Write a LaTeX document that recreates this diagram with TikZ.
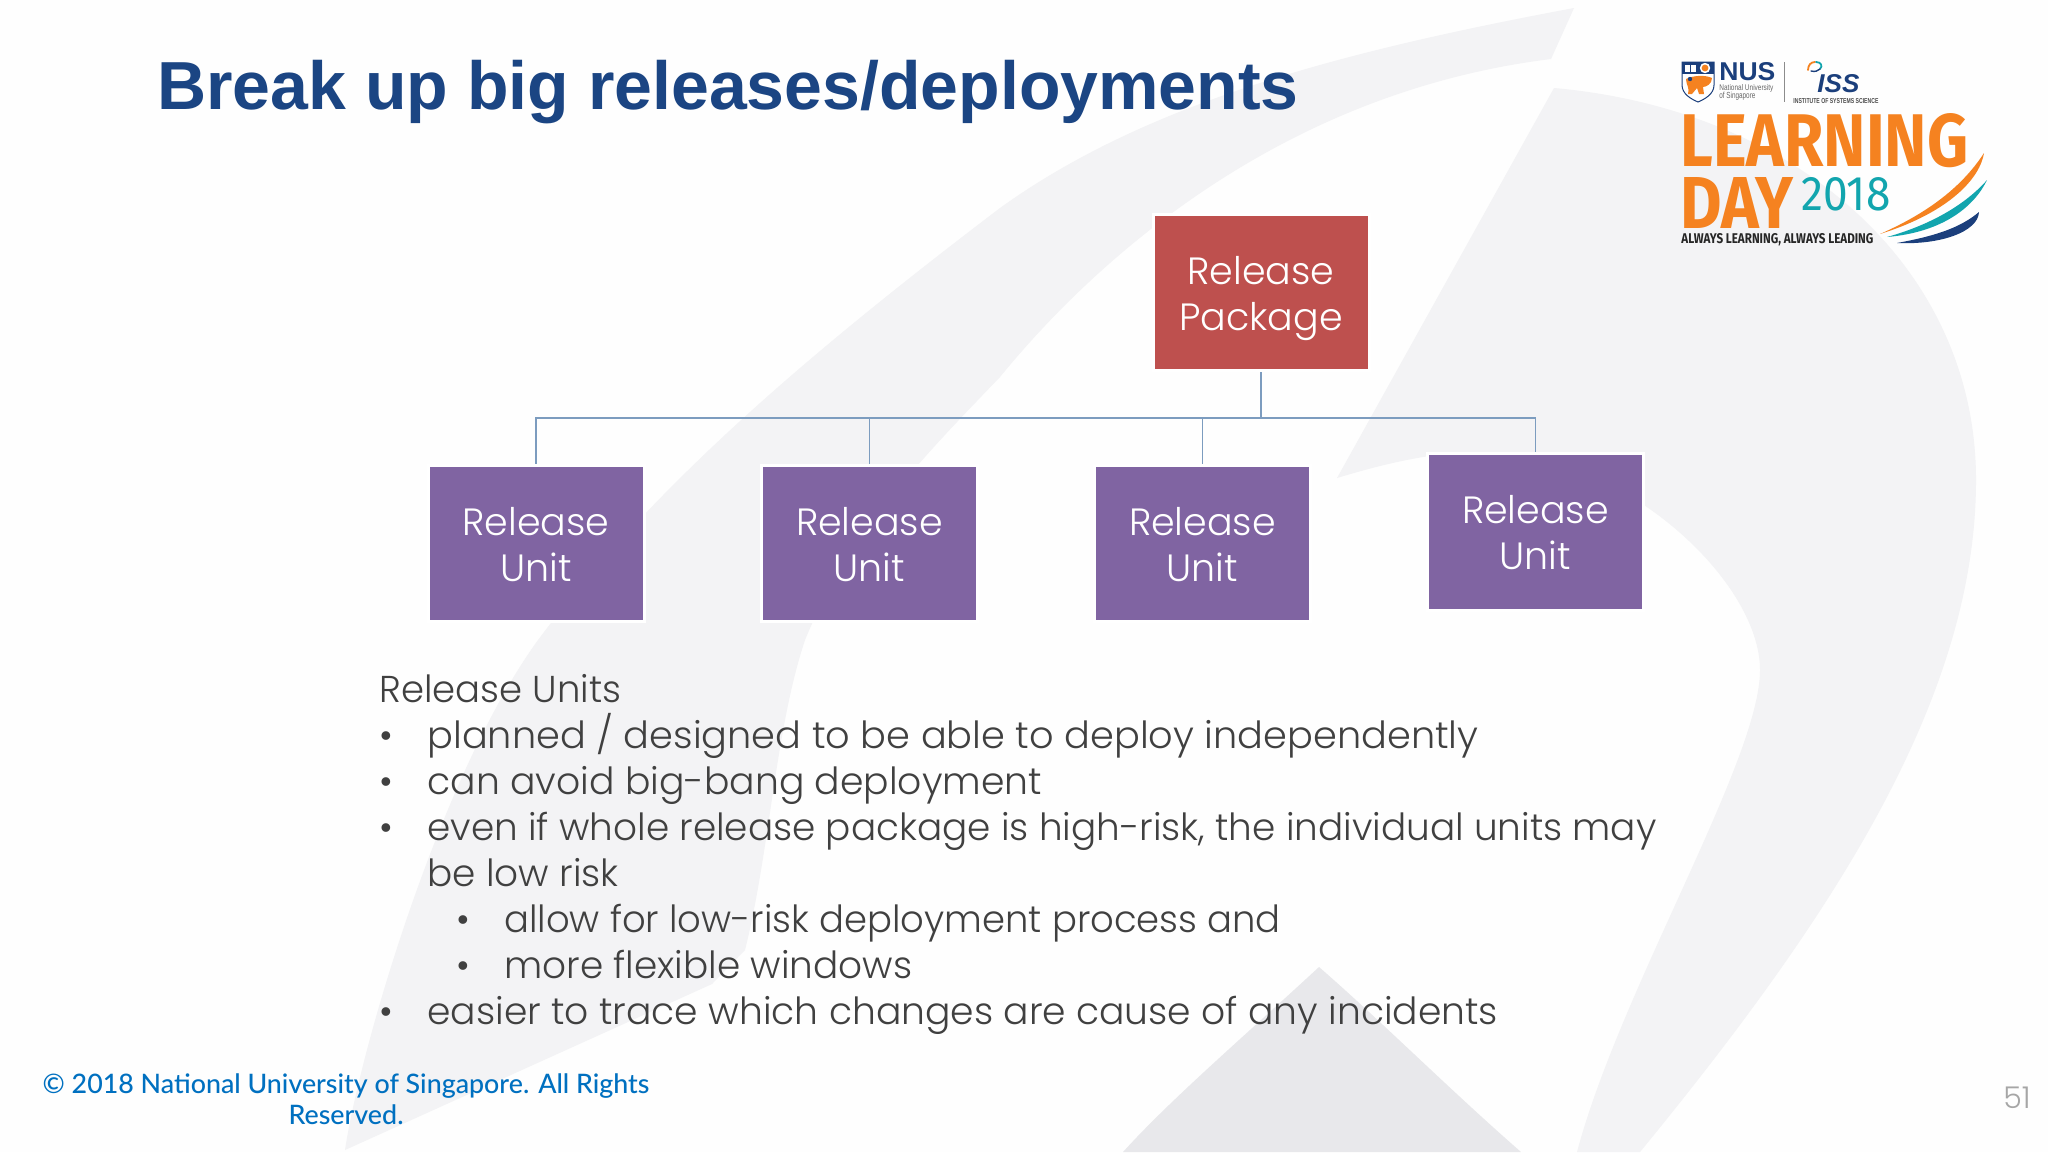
\documentclass[tikz,border=0pt]{standalone}
\usepackage{graphicx}
\usepackage{fontspec}
\setmainfont{Liberation Sans}
\newfontfamily\bodyf{Poppins Light}
\newfontfamily\footf{Lato Medium}
\newfontfamily\fira{Fira Sans}
\definecolor{bgc}{HTML}{FEFEFE}
\definecolor{wmc}{HTML}{F3F3F5}
\definecolor{wmd}{HTML}{E8E8EB}
\definecolor{titlec}{HTML}{1B4583}
\definecolor{redb}{HTML}{BE504E}
\definecolor{purb}{HTML}{8064A2}
\definecolor{linec}{HTML}{7C9CBF}
\definecolor{bodyc}{HTML}{404040}
\definecolor{footc}{HTML}{0070C0}
\definecolor{orangeL}{HTML}{F58220}
\definecolor{tealL}{HTML}{12A5AE}
\definecolor{navyL}{HTML}{1B3F7C}
\tikzset{
  wm/.style={fill=wmc,draw=none},
  boxbase/.style={draw=white,line width=1.5pt,minimum width=108pt,minimum height=78.25pt,text=white,align=center,inner sep=0pt,font=\bodyf\fontsize{19}{23}\selectfont},
  pkgbox/.style={boxbase,fill=redb},
  unitbox/.style={boxbase,fill=purb},
  conn/.style={draw=linec,line width=0.65pt},
  bodyline/.style={anchor=base west,inner sep=0pt,text=bodyc,font=\bodyf\fontsize{18.7}{23}\selectfont},
  footline/.style={anchor=base,inner sep=0pt,text=footc,font=\footf\fontsize{13.4}{16}\selectfont},
  logotext/.style={anchor=base west,inner sep=0pt},
}
\newcommand{\fitbox}[3]{\resizebox{#1pt}{#2pt}{#3}}
\begin{document}
\begin{tikzpicture}[x=0.5pt,y=-0.5pt]
\useasboundingbox (0,0) rectangle (2048,1152);
\fill[bgc] (0,0) rectangle (2048,1152);
% watermark
\fill[wm] (1574,8) .. controls (1350,50) and (1150,100) .. (1000,208)
  .. controls (800,360) and (650,490) .. (538,640)
  .. controls (440,775) and (360,1050) .. (345,1150)
  -- (712,984) -- (745,950)
  .. controls (770,850) and (775,730) .. (805,640)
  .. controls (850,530) and (930,450) .. (1000,377)
  .. controls (1075,285) and (1260,95) .. (1551,59) -- cycle;
\fill[wm] (1554,88) .. controls (1800,110) and (1976,270) .. (1976,480)
  .. controls (1976,700) and (1830,920) .. (1640,1152)
  -- (1577,1152) .. controls (1620,990) and (1760,760) .. (1760,670)
  .. controls (1760,580) and (1620,450) .. (1481,452)
  .. controls (1430,452) and (1380,465) .. (1337,478) -- cycle;
\fill[wmd] (1319,967) .. controls (1240,1040) and (1170,1100) .. (1123,1152) -- (1521,1152) .. controls (1450,1090) and (1380,1020) .. cycle;
% title
\node[anchor=base west,inner sep=0pt,text=titlec,font=\bfseries\fontsize{34}{40}\selectfont] (title) at (157,109) {Break up big releases/deployments};
% tree
\node[pkgbox] (pkg) at (1261,292.5) {\rule{0pt}{20pt}Release\\Package};
\node[unitbox] (u1) at (536,543.5) {\rule{0pt}{14.7pt}Release\\Unit};
\node[unitbox] (u2) at (869.5,543.5) {\rule{0pt}{14.7pt}Release\\Unit};
\node[unitbox] (u3) at (1202.5,543.5) {\rule{0pt}{14.7pt}Release\\Unit};
\node[unitbox] (u4) at (1535.5,532) {\rule{0pt}{14.7pt}Release\\Unit};
\coordinate (bus) at (1261,418);
\draw[conn] (pkg.south) -- (bus);
\draw[conn] (bus) -| (u1.north);
\draw[conn] (bus) -| (u2.north);
\draw[conn] (bus) -| (u3.north);
\draw[conn] (bus) -| (u4.north);
% body
\node[bodyline,xscale=.99] (t0) at (379,702) {Release Units};
\node[bodyline] (b1) at (379,748) {•};
\node[bodyline,xscale=1.024] (t1) at (427,748) {planned / designed to be able to deploy independently};
\node[bodyline] (b2) at (379,794) {•};
\node[bodyline,xscale=1.009] (t2) at (427,794) {can avoid big-bang deployment};
\node[bodyline] (b3) at (379,840) {•};
\node[bodyline] (t3) at (427,840) {even if whole release package is high-risk, the individual units may};
\node[bodyline] (t3b) at (427,886) {be low risk};
\node[bodyline] (b4) at (456,932) {•};
\node[bodyline,xscale=.988] (t4) at (504,932) {allow for low-risk deployment process and};
\node[bodyline] (b5) at (456,978) {•};
\node[bodyline] (t5) at (504,978) {more flexible windows};
\node[bodyline] (b6) at (379,1024) {•};
\node[bodyline,xscale=1.007] (t6) at (427,1024) {easier to trace which changes are cause of any incidents};
% footer
\node[footline] (f1) at (346,1093) {© 2018 National University of Singapore. All Rights};
\node[footline] (f2) at (346,1124) {Reserved.};
\node[anchor=base east,inner sep=0pt,text=black!35,font=\bodyf\fontsize{15}{16}\selectfont] (pg) at (2031,1108) {51};
% logo: shield
\draw[navyL,line width=0.5pt,fill=white] (1682,62) -- (1714,62) -- (1714,85) .. controls (1714,94) and (1705,99) .. (1698,102) .. controls (1691,99) and (1682,94) .. (1682,85) -- cycle;
\fill[navyL] (1682,62) rectangle (1714,74);
\fill[white] (1685,64.5) rectangle (1696,72);
\fill[navyL] (1690,64.5) rectangle (1691,72);
\fill[white] (1705,68) circle (2.6pt);
\fill[orangeL] (1705,68) circle (1.7pt);
\fill[orangeL] (1686,79) .. controls (1694,75) and (1706,75) .. (1712,78) .. controls (1712,84) and (1706,87) .. (1703,87) -- (1704,94) -- (1699,94) -- (1697,88) -- (1692,94) -- (1688,94) .. controls (1690,88) and (1686,85) .. (1686,79) -- cycle;
\fill[navyL] (1690,79) circle (1.1pt);
\node[logotext,text=navyL] (nus) at (1719,80) {\fitbox{28}{9}{\bfseries NUS}};
\node[logotext,text=black!60] (nat1) at (1719,90) {\fitbox{27}{3}{National University}};
\node[logotext,text=black!60] (nat2) at (1719,98) {\fitbox{18}{3.2}{of Singapore}};
\coordinate (dtop) at (1784,62);
\coordinate (dbot) at (1784,102);
\draw[black!45,line width=0.5pt] (dtop) -- (dbot);
\draw[orangeL,line width=0.9pt,line cap=round] (1808,70) .. controls (1808,65) and (1811,62) .. (1815,62);
\draw[tealL,line width=0.9pt,line cap=round] (1816,62) .. controls (1821,62) and (1823,66) .. (1820,69);
\draw[navyL,line width=0.7pt,line cap=round] (1811,71) .. controls (1815,72) and (1818,71) .. (1820,69);
\node[logotext,text=navyL] (iss) at (1817,92) {\fitbox{21}{9}{\bfseries\itshape ISS}};
\node[logotext,text=black!70] (inst) at (1793,103) {\fitbox{42.5}{2.5}{\bfseries INSTITUTE OF SYSTEMS SCIENCE}};
\node[logotext,text=orangeL] (ld1) at (1680,166) {\fitbox{144}{26.5}{\fira\bfseries LEARNING}};
\node[logotext,text=orangeL] (ld2) at (1680,228) {\fitbox{56.5}{25.5}{\fira\bfseries DAY}};
\node[logotext,text=tealL] (ld3) at (1801,210) {\fitbox{44.5}{16.5}{\fira 2018}};
\node[logotext,text=black!85] (ld4) at (1681,243) {\fitbox{96}{5}{\fira\bfseries ALWAYS LEARNING, ALWAYS LEADING}};
% swooshes
\fill[orangeL] (1880,234) .. controls (1923,215) and (1960,190) .. (1984,153) .. controls (1980,178) and (1950,212) .. cycle;
\fill[tealL] (1887,237) .. controls (1930,225) and (1965,205) .. (1987,180) .. controls (1975,205) and (1945,232) .. cycle;
\fill[navyL] (1897,243) .. controls (1935,236) and (1960,228) .. (1979,212) .. controls (1978,232) and (1940,245) .. cycle;
\end{tikzpicture}
\end{document}
